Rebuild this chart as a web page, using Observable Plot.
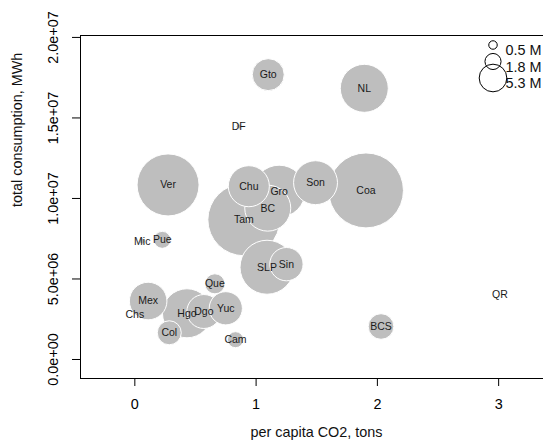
<!DOCTYPE html>
<html>
<head>
<meta charset="utf-8">
<script src="https://cdn.jsdelivr.net/npm/d3@7"></script>
<script src="https://cdn.jsdelivr.net/npm/@observablehq/plot@0.6"></script>
<style>
html, body { margin: 0; padding: 0; overflow: hidden; background: #fff; width: 543px; height: 444px; }
#chart { width: 543px; height: 444px; overflow: hidden; position: relative; }
#chart svg { display: block; max-width: none; }
</style>
</head>
<body>
<div id="chart"></div>
<script>
// state abbreviations (drawing order)
const states = ["BC","BCS","Cam","Coa","Col","Chs","Chu","DF","Dgo","Gto","Gro","Hgo","Mex","Mic","NL","Pue","Que","QR","SLP","Sin","Son","Tam","Ver","Yuc"];
// per capita CO2, tons
const perCapitaCO2 = [1.096,2.03,0.83,1.906,0.284,0.0,0.94,0.857,0.569,1.10,1.19,0.43,0.11,0.061,1.892,0.226,0.66,3.01,1.09,1.25,1.49,0.899,0.274,0.75];
// total consumption, MWh
const consumption = [9.40e6,2.05e6,1.23e6,10.50e6,1.66e6,2.80e6,10.76e6,14.47e6,2.98e6,17.69e6,10.45e6,2.87e6,3.63e6,7.35e6,16.84e6,7.43e6,4.70e6,4.02e6,5.73e6,5.92e6,10.98e6,8.68e6,10.84e6,3.18e6];
// bubble size, millions
const bubbleSize = [14.7,4.55,1.78,39,4.0,0,11.7,0.2,8.0,7.1,18.8,16.7,9.8,0.25,16,2.0,2.8,0,20.25,7.7,13.4,36,26.7,7.65];

const xTicks = [0, 1, 2, 3];
const xTickLabels = ["0", "1", "2", "3"];
const yTicks = [0, 5e6, 1e7, 1.5e7, 2e7];
const yTickLabels = ["0.0e+00", "5.0e+06", "1.0e+07", "1.5e+07", "2.0e+07"];

const legendValues = [0.5, 1.8, 5.3];
const legendLabels = ["0.5 M", "1.8 M", "5.3 M"];

const xTitle = "per capita CO2, tons";
const yTitle = "total consumption, MWh";

const data = states.map((s, i) => ({state: s, x: perCapitaCO2[i], y: consumption[i], size: bubbleSize[i]}));

const font = "'Liberation Sans', Arial, Helvetica, sans-serif";
const AX = 14.4;

const legendMarks = legendValues.flatMap((v, i) => [
  Plot.dot([v], {frameAnchor: "top-right", dx: -59.5, dy: 9.5 + i * 16.5, r: d => d, stroke: "black", strokeWidth: 1, fill: "none"}),
  Plot.text([legendLabels[i]], {frameAnchor: "top-right", dx: -47, dy: 9.5 + i * 16.5, text: d => d, textAnchor: "start", fontSize: AX, fill: "#111"})
]);

const chart = Plot.plot({
  width: 560,
  height: 444,
  marginLeft: 80,
  marginRight: 8,
  marginTop: 35,
  marginBottom: 66,
  style: {fontFamily: font, background: "#fff"},
  x: {domain: [-0.448, 3.444]},
  y: {domain: [-1.18e6, 20.12e6]},
  r: {type: "sqrt", domain: [0, 40], range: [0, 6 * Math.sqrt(40)]},
  marks: [
    Plot.dot(data, {x: "x", y: "y", r: "size", fill: "#bebebe", stroke: "white", strokeWidth: 1, fillOpacity: 1}),
    Plot.text(data, {x: "x", y: "y", text: "state", fontSize: 10.5, fill: "#1a1a1a"}),
    Plot.frame({stroke: "black", strokeWidth: 1}),
    Plot.axisX({ticks: xTicks, tickFormat: (d) => xTickLabels[xTicks.indexOf(d)], tickSize: 8, tickPadding: 12, fontSize: AX, label: null, stroke: "black"}),
    Plot.axisY({ticks: yTicks, tickFormat: (d) => yTickLabels[yTicks.indexOf(d)], tickSize: 8, tickPadding: 15, tickRotate: -90, fontSize: AX, label: null, stroke: "black"}),
    Plot.text([xTitle], {frameAnchor: "bottom", dy: 58, text: d => d, fontSize: AX, fill: "#111"}),
    Plot.text([yTitle], {frameAnchor: "left", dx: -63, rotate: -90, text: d => d, fontSize: AX, fill: "#111"}),
    ...legendMarks
  ]
});
document.getElementById("chart").appendChild(chart);
</script>
</body>
</html>
